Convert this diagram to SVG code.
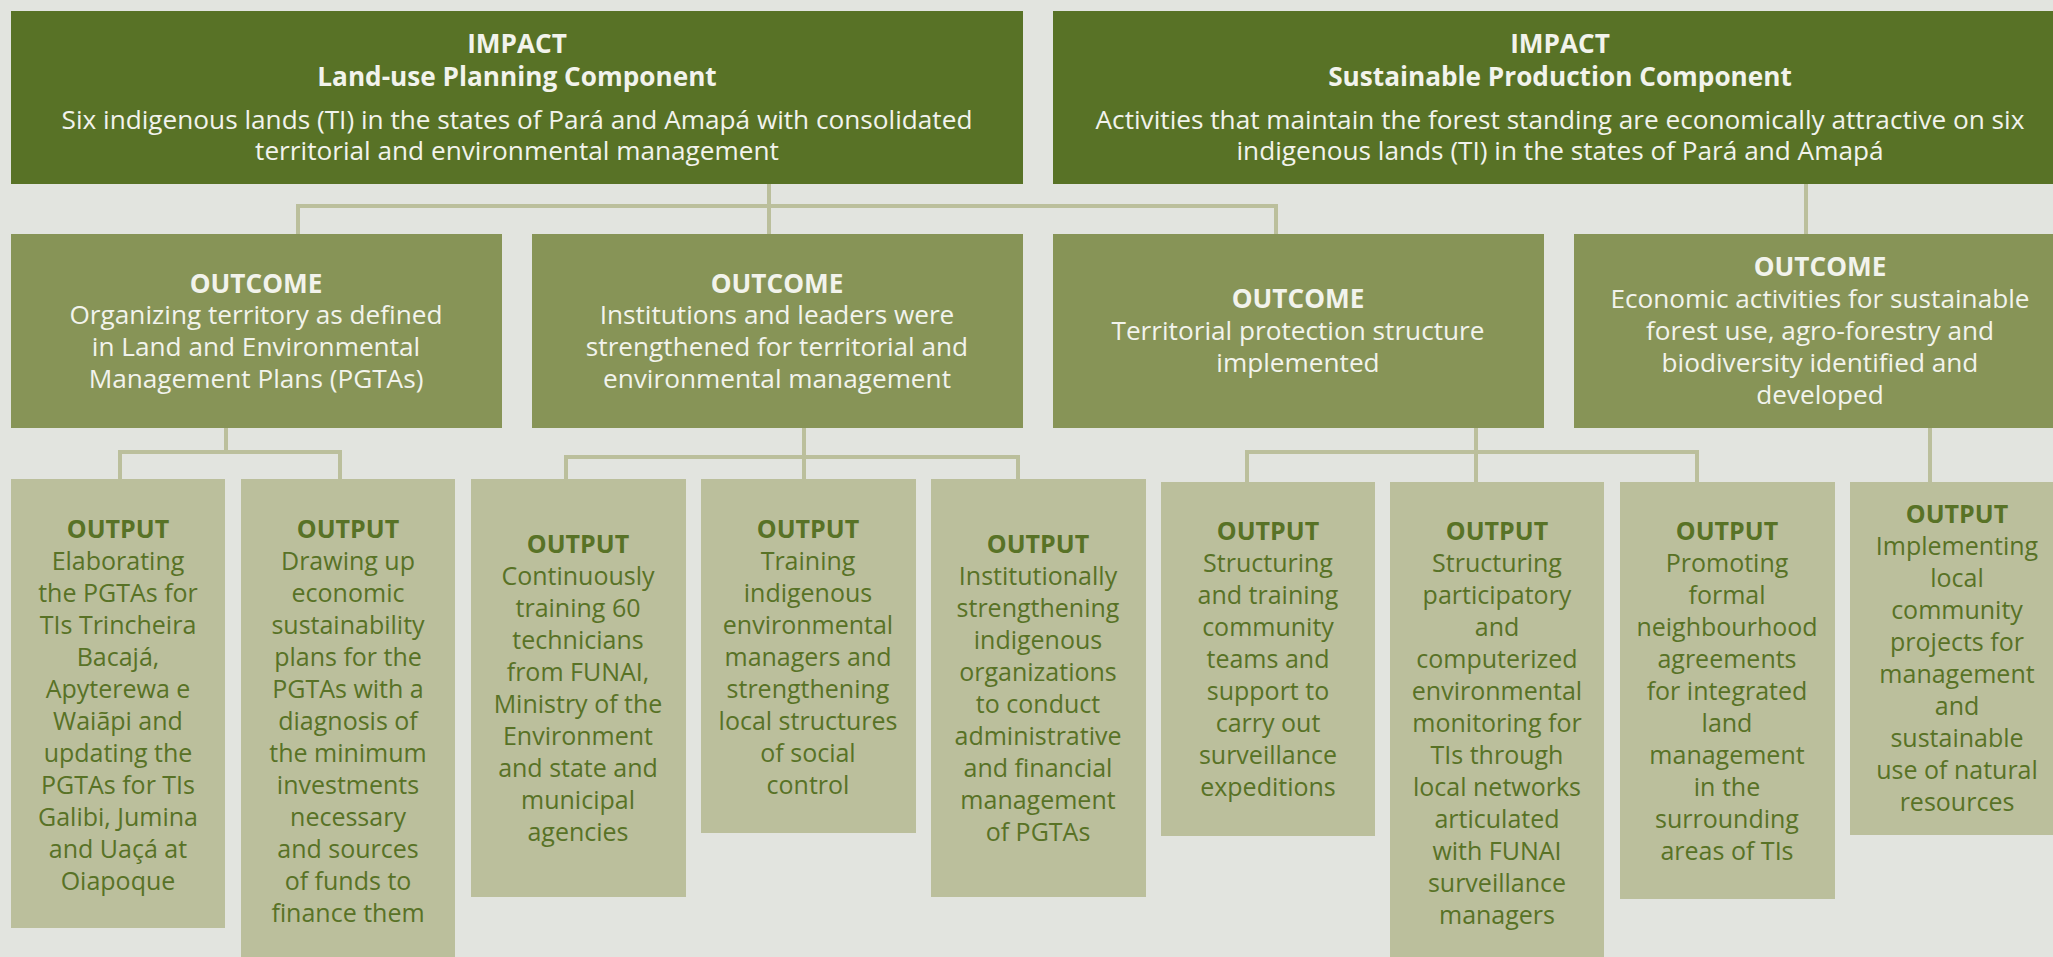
<svg xmlns="http://www.w3.org/2000/svg" width="2053" height="957" viewBox="0 0 2053 957">
<style>
.imp{fill:#587226}
.otc{fill:#879457}
.out{fill:#bbbf9c}
.lt{font-family:"Open Sans",Lato,sans-serif;font-size:26.2px;fill:#f2f3ec;text-anchor:middle}
.dk{font-family:"Open Sans",Lato,sans-serif;font-size:25px;fill:#587226;text-anchor:middle}
.b{font-weight:bold}
.con{stroke:#bbbf9c;stroke-width:4;fill:none}
</style>
<rect width="2053" height="957" fill="#e2e4df"/>
<g id="connectors" class="con">
<path d="M769 184V206M298 234V206H1276V234M769 206V234M1806 184V234"/>
<path d="M226 428V452M120 479V452H340V479"/>
<path d="M804 428V457M566 479V457H1018V479M804 457V479"/>
<path d="M1476 428V452M1247 482V452H1697V482M1476 452V482"/>
<path d="M1930 428V482"/>
</g>
<g id="impact1">
<rect class="imp" x="11" y="11" width="1012" height="173"/>
<text class="lt b" x="517" y="53">IMPACT</text>
<text class="lt b" x="517" y="86">Land-use Planning Component</text>
<text class="lt" x="517" y="129">Six indigenous lands (TI) in the states of Pará and Amapá with consolidated</text>
<text class="lt" x="517" y="160">territorial and environmental management</text>
</g>
<g id="impact2">
<rect class="imp" x="1053" y="11" width="1000" height="173"/>
<text class="lt b" x="1560" y="53">IMPACT</text>
<text class="lt b" x="1560" y="86">Sustainable Production Component</text>
<text class="lt" x="1560" y="129">Activities that maintain the forest standing are economically attractive on six</text>
<text class="lt" x="1560" y="160">indigenous lands (TI) in the states of Pará and Amapá</text>
</g>
<g id="outcome1">
<rect class="otc" x="11" y="234" width="491" height="194"/>
<text class="lt b" x="256" y="293">OUTCOME</text>
<text class="lt" x="256" y="324">Organizing territory as defined</text>
<text class="lt" x="256" y="356">in Land and Environmental</text>
<text class="lt" x="256" y="388">Management Plans (PGTAs)</text>
</g>
<g id="outcome2">
<rect class="otc" x="532" y="234" width="491" height="194"/>
<text class="lt b" x="777" y="293">OUTCOME</text>
<text class="lt" x="777" y="324">Institutions and leaders were</text>
<text class="lt" x="777" y="356">strengthened for territorial and</text>
<text class="lt" x="777" y="388">environmental management</text>
</g>
<g id="outcome3">
<rect class="otc" x="1053" y="234" width="491" height="194"/>
<text class="lt b" x="1298" y="308">OUTCOME</text>
<text class="lt" x="1298" y="340">Territorial protection structure</text>
<text class="lt" x="1298" y="372">implemented</text>
</g>
<g id="outcome4">
<rect class="otc" x="1574" y="234" width="479" height="194"/>
<text class="lt b" x="1820" y="276">OUTCOME</text>
<text class="lt" x="1820" y="308">Economic activities for sustainable</text>
<text class="lt" x="1820" y="340">forest use, agro-forestry and</text>
<text class="lt" x="1820" y="372">biodiversity identified and</text>
<text class="lt" x="1820" y="404">developed</text>
</g>
<g id="output1">
<rect class="out" x="11" y="479" width="214" height="449"/>
<text class="dk" x="118" y="538"><tspan class="b">OUTPUT</tspan><tspan x="118" dy="32">Elaborating</tspan><tspan x="118" dy="32">the PGTAs for</tspan><tspan x="118" dy="32">TIs Trincheira</tspan><tspan x="118" dy="32">Bacajá,</tspan><tspan x="118" dy="32">Apyterewa e</tspan><tspan x="118" dy="32">Waiãpi and</tspan><tspan x="118" dy="32">updating the</tspan><tspan x="118" dy="32">PGTAs for TIs</tspan><tspan x="118" dy="32">Galibi, Jumina</tspan><tspan x="118" dy="32">and Uaçá at</tspan><tspan x="118" dy="32">Oiapoque</tspan></text>
</g>
<g id="output2">
<rect class="out" x="241" y="479" width="214" height="478"/>
<text class="dk" x="348" y="538"><tspan class="b">OUTPUT</tspan><tspan x="348" dy="32">Drawing up</tspan><tspan x="348" dy="32">economic</tspan><tspan x="348" dy="32">sustainability</tspan><tspan x="348" dy="32">plans for the</tspan><tspan x="348" dy="32">PGTAs with a</tspan><tspan x="348" dy="32">diagnosis of</tspan><tspan x="348" dy="32">the minimum</tspan><tspan x="348" dy="32">investments</tspan><tspan x="348" dy="32">necessary</tspan><tspan x="348" dy="32">and sources</tspan><tspan x="348" dy="32">of funds to</tspan><tspan x="348" dy="32">finance them</tspan></text>
</g>
<g id="output3">
<rect class="out" x="471" y="479" width="215" height="418"/>
<text class="dk" x="578" y="553"><tspan class="b">OUTPUT</tspan><tspan x="578" dy="32">Continuously</tspan><tspan x="578" dy="32">training 60</tspan><tspan x="578" dy="32">technicians</tspan><tspan x="578" dy="32">from FUNAI,</tspan><tspan x="578" dy="32">Ministry of the</tspan><tspan x="578" dy="32">Environment</tspan><tspan x="578" dy="32">and state and</tspan><tspan x="578" dy="32">municipal</tspan><tspan x="578" dy="32">agencies</tspan></text>
</g>
<g id="output4">
<rect class="out" x="701" y="479" width="215" height="354"/>
<text class="dk" x="808" y="538"><tspan class="b">OUTPUT</tspan><tspan x="808" dy="32">Training</tspan><tspan x="808" dy="32">indigenous</tspan><tspan x="808" dy="32">environmental</tspan><tspan x="808" dy="32">managers and</tspan><tspan x="808" dy="32">strengthening</tspan><tspan x="808" dy="32">local structures</tspan><tspan x="808" dy="32">of social</tspan><tspan x="808" dy="32">control</tspan></text>
</g>
<g id="output5">
<rect class="out" x="931" y="479" width="215" height="418"/>
<text class="dk" x="1038" y="553"><tspan class="b">OUTPUT</tspan><tspan x="1038" dy="32">Institutionally</tspan><tspan x="1038" dy="32">strengthening</tspan><tspan x="1038" dy="32">indigenous</tspan><tspan x="1038" dy="32">organizations</tspan><tspan x="1038" dy="32">to conduct</tspan><tspan x="1038" dy="32">administrative</tspan><tspan x="1038" dy="32">and financial</tspan><tspan x="1038" dy="32">management</tspan><tspan x="1038" dy="32">of PGTAs</tspan></text>
</g>
<g id="output6">
<rect class="out" x="1161" y="482" width="214" height="354"/>
<text class="dk" x="1268" y="540"><tspan class="b">OUTPUT</tspan><tspan x="1268" dy="32">Structuring</tspan><tspan x="1268" dy="32">and training</tspan><tspan x="1268" dy="32">community</tspan><tspan x="1268" dy="32">teams and</tspan><tspan x="1268" dy="32">support to</tspan><tspan x="1268" dy="32">carry out</tspan><tspan x="1268" dy="32">surveillance</tspan><tspan x="1268" dy="32">expeditions</tspan></text>
</g>
<g id="output7">
<rect class="out" x="1390" y="482" width="214" height="475"/>
<text class="dk" x="1497" y="540"><tspan class="b">OUTPUT</tspan><tspan x="1497" dy="32">Structuring</tspan><tspan x="1497" dy="32">participatory</tspan><tspan x="1497" dy="32">and</tspan><tspan x="1497" dy="32">computerized</tspan><tspan x="1497" dy="32">environmental</tspan><tspan x="1497" dy="32">monitoring for</tspan><tspan x="1497" dy="32">TIs through</tspan><tspan x="1497" dy="32">local networks</tspan><tspan x="1497" dy="32">articulated</tspan><tspan x="1497" dy="32">with FUNAI</tspan><tspan x="1497" dy="32">surveillance</tspan><tspan x="1497" dy="32">managers</tspan></text>
</g>
<g id="output8">
<rect class="out" x="1620" y="482" width="215" height="417"/>
<text class="dk" x="1727" y="540"><tspan class="b">OUTPUT</tspan><tspan x="1727" dy="32">Promoting</tspan><tspan x="1727" dy="32">formal</tspan><tspan x="1727" dy="32">neighbourhood</tspan><tspan x="1727" dy="32">agreements</tspan><tspan x="1727" dy="32">for integrated</tspan><tspan x="1727" dy="32">land</tspan><tspan x="1727" dy="32">management</tspan><tspan x="1727" dy="32">in the</tspan><tspan x="1727" dy="32">surrounding</tspan><tspan x="1727" dy="32">areas of TIs</tspan></text>
</g>
<g id="output9">
<rect class="out" x="1850" y="482" width="203" height="353"/>
<text class="dk" x="1957" y="523"><tspan class="b">OUTPUT</tspan><tspan x="1957" dy="32">Implementing</tspan><tspan x="1957" dy="32">local</tspan><tspan x="1957" dy="32">community</tspan><tspan x="1957" dy="32">projects for</tspan><tspan x="1957" dy="32">management</tspan><tspan x="1957" dy="32">and</tspan><tspan x="1957" dy="32">sustainable</tspan><tspan x="1957" dy="32">use of natural</tspan><tspan x="1957" dy="32">resources</tspan></text>
</g>
</svg>
